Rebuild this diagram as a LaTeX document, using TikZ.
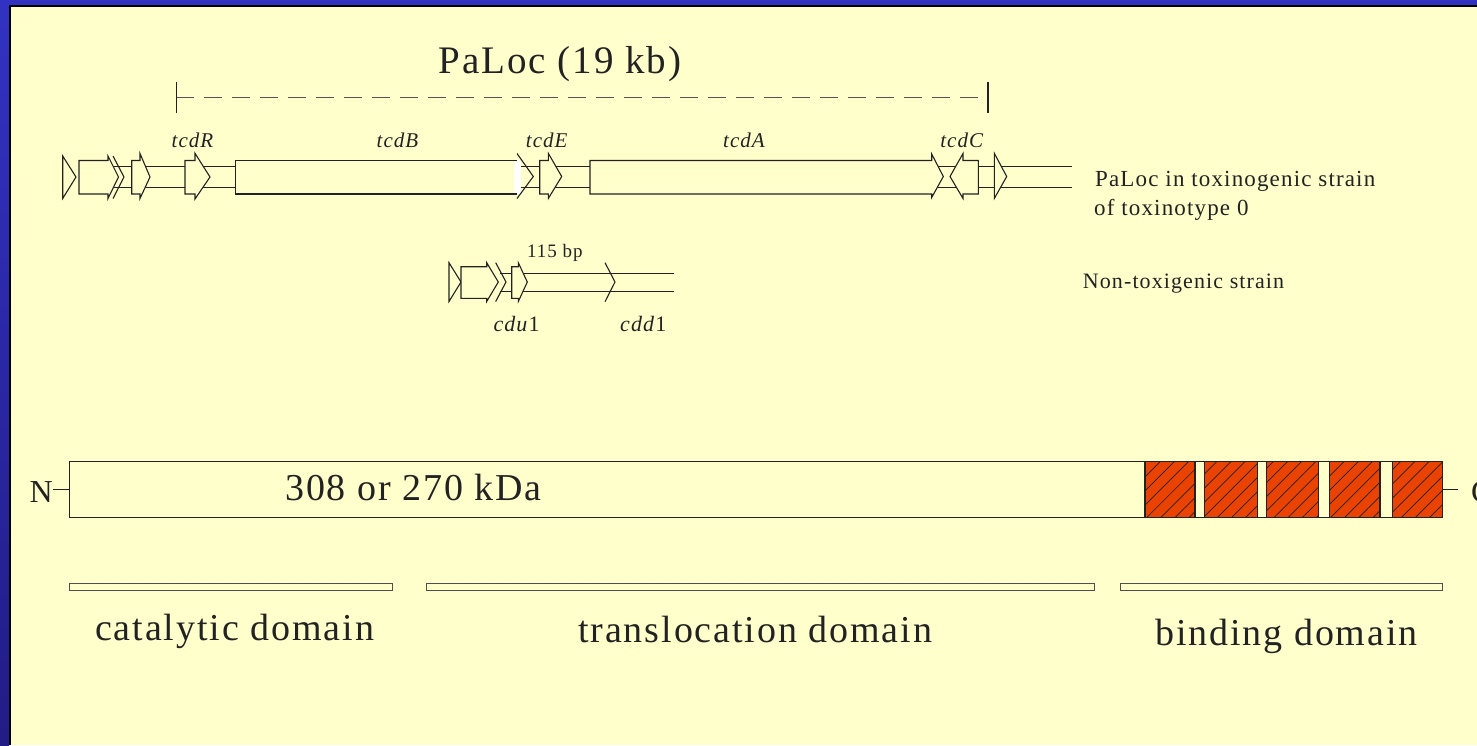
\documentclass[tikz,border=0pt]{standalone}
\usepackage{fontspec}
\setmainfont{Liberation Serif}
\newfontfamily\wide[LetterSpace=5]{Liberation Serif}
\usetikzlibrary{patterns.meta}
\definecolor{paper}{HTML}{FFFFCC}
\definecolor{frameblue}{HTML}{3232C2}
\definecolor{framedark}{HTML}{221C86}
\definecolor{ink}{HTML}{222222}
\definecolor{dashgrey}{HTML}{555555}
\definecolor{domainred}{HTML}{EA4200}
\newcommand\fsz[1]{\fontsize{#1}{#1}\selectfont}
\begin{document}
\begin{tikzpicture}[x=1pt,y=-1pt,
  gene/.style={draw=ink,line width=1.1pt,fill=paper,line join=miter},
  rail/.style={draw=ink,line width=1.1pt},
  chev/.style={draw=ink,line width=1.1pt,line join=miter},
  domainbar/.style={draw=ink!80,line width=1pt,fill=paper},
  repeatbox/.style={draw=ink,line width=1.1pt,fill=domainred,
    postaction={pattern={Lines[angle=45,distance=10pt,line width=0.7pt]},pattern color=ink}},
  lbl/.style={inner sep=0pt,text=ink},
  genelbl/.style={lbl,anchor=base,font=\wide\itshape\fsz{21}},
  smalllbl/.style={lbl,anchor=base west,font=\wide\fsz{22}},
  biglbl/.style={lbl,anchor=base west,font=\wide\fsz{38}}]

% canvas and frame
\useasboundingbox (0,0) rectangle (1477,745);
\clip (0,0) rectangle (1477,745);
\fill[frameblue] (0,0) rectangle (1477,745);
\shade[top color=frameblue,bottom color=framedark] (0,5) rectangle (9,745);
\fill[black] (9,5) rectangle (1477,745);
\fill[paper] (11,7) rectangle (1477,745);

% ---------------- PaLoc extent ----------------
\node[lbl,anchor=base,font=\wide\fsz{39}] (title) at (560,73) {PaLoc (19 kb)};
\coordinate (pl) at (176.3,97.7);
\coordinate (pr) at (988,97.7);
\draw[dashgrey,line width=1.1pt,dash pattern=on 18pt off 10pt] (pl) -- (pr);
\draw[ink,line width=1.1pt] (176.3,81.7) -- (176.3,113.3);
\draw[ink,line width=1.1pt] (988,81.7) -- (988,113.3);

% ---------------- toxinogenic locus ----------------
\draw[rail] (113,166.5) -- (1072,166.5);
\draw[rail] (113,187.5) -- (1072,187.5);
\draw[gene] (62.7,156) -- (76,177) -- (62.7,198.5) -- cycle;
\draw[gene] (79,160.5) -- (108,160.5) -- (108,156) -- (118.5,177) -- (108,198.5) -- (108,194) -- (79,194) -- cycle;
\draw[chev] (113,156) -- (124,177) -- (113,198.5);
\draw[gene] (131.7,160.5) -- (140,160.5) -- (140,153.5) -- (150,177) -- (140,198.5) -- (140,194) -- (131.7,194) -- cycle;
% tcdR
\draw[gene] (185,160.5) -- (195,160.5) -- (195,153.3) -- (210,177) -- (195,199) -- (195,194) -- (185,194) -- cycle;
% tcdB
\path[fill=paper] (235.7,160.5) rectangle (517,194);
\fill[white] (514,161) rectangle (521,193.5);
\draw[rail] (517,160.5) -- (235.7,160.5) -- (235.7,194) -- (517,194);
\draw[chev] (517,153.5) -- (533.3,176.5) -- (517,198.5);
% tcdE
\draw[gene] (539.7,160.5) -- (548.3,160.5) -- (548.3,153.3) -- (561.7,176.5) -- (548.3,198.5) -- (548.3,194) -- (539.7,194) -- cycle;
% tcdA
\draw[gene] (590,160.5) -- (931.7,160.5) -- (931.7,154) -- (943.3,176.5) -- (931.7,197.5) -- (931.7,194) -- (590,194) -- cycle;
% tcdC (reverse strand)
\draw[gene] (950,176.5) -- (963,153.5) -- (963,160.5) -- (978.3,160.5) -- (978.3,194) -- (963,194) -- (963,198.5) -- cycle;
\draw[gene] (994.3,153.3) -- (1006.7,176.5) -- (994.3,198.5) -- cycle;

\node[genelbl] (tcdR) at (192.5,147) {tcdR};
\node[genelbl] (tcdB) at (397.5,147) {tcdB};
\node[genelbl] (tcdE) at (546.7,147) {tcdE};
\node[genelbl] (tcdA) at (744,147) {tcdA};
\node[genelbl] (tcdC) at (961.7,147) {tcdC};

\node[smalllbl,font=\wide\fsz{23}] (tox1) at (1095,186.7) {PaLoc in toxinogenic strain};
\node[smalllbl,font=\wide\fsz{23}] (tox2) at (1094,215) {of toxinotype 0};

% ---------------- non-toxigenic locus ----------------
\draw[rail] (500,273.3) -- (674.3,273.3);
\draw[rail] (500,291.7) -- (674.3,291.7);
\draw[gene] (449,262.7) -- (461,282) -- (449,301.5) -- cycle;
\draw[gene] (461,266.7) -- (486.7,266.7) -- (486.7,262.7) -- (498.3,282) -- (486.7,301.5) -- (486.7,298.3) -- (461,298.3) -- cycle;
\draw[chev] (495.7,262.7) -- (506,282) -- (495.7,301.5);
\draw[gene] (511.7,266.7) -- (518.3,266.7) -- (518.3,262.7) -- (527.3,282) -- (518.3,301.5) -- (518.3,298.3) -- (511.7,298.3) -- cycle;
\draw[chev] (605,262.7) -- (615,282) -- (605,301.7);

\node[lbl,anchor=base west,font=\wide\fsz{19}] (bp) at (527,257) {115 bp};
\node[lbl,anchor=base west,font=\wide\fsz{22}] (cdu) at (493.3,331.7) {\textit{cdu}1};
\node[lbl,anchor=base west,font=\wide\fsz{22}] (cdd) at (620,331.7) {\textit{cdd}1};
\node[smalllbl] (nontox) at (1082.7,288.3) {Non-toxigenic strain};

% ---------------- toxin protein ----------------
\draw[gene] (69.3,461.7) rectangle (1442.7,517.3);
\coordinate (nend) at (69.3,489.3);
\coordinate (cend) at (1442.7,489.3);
\node[lbl,anchor=base east,font=\fsz{32}] (N) at (53,502.7) {N};
\node[lbl,anchor=base west,font=\fsz{32}] (C) at (1471,502.7) {C};
\draw[ink,line width=1pt] (N.east |- nend) -- (nend);
\draw[ink,line width=1pt] (cend) -- (1458,489.3);
\node[lbl,anchor=base west,font=\wide\fsz{38}] (mass) at (285,500) {308 or 270 kDa};

\draw[repeatbox] (1145,461.7) rectangle (1195,517.3);
\draw[repeatbox] (1204.3,461.7) rectangle (1257.7,517.3);
\draw[repeatbox] (1266.7,461.7) rectangle (1318.3,517.3);
\draw[repeatbox] (1329.3,461.7) rectangle (1380,517.3);
\draw[repeatbox] (1392.3,461.7) rectangle (1442.7,517.3);

% ---------------- domains ----------------
\draw[domainbar] (69.3,583.3) rectangle (392.3,590.3);
\draw[domainbar] (426.7,583.3) rectangle (1094,590.3);
\draw[domainbar] (1120,583.3) rectangle (1442.7,590.3);
\node[biglbl] (cat) at (95,640) {catalytic domain};
\node[biglbl] (trans) at (578,642) {translocation domain};
\node[biglbl] (bind) at (1155,645) {binding domain};
\end{tikzpicture}
\end{document}
